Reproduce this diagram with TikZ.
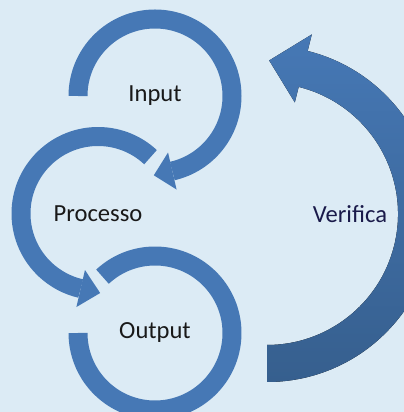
\documentclass[tikz,border=0pt]{standalone}
\usepackage{fontspec}
\setmainfont{Carlito}
\definecolor{cyclebg}{RGB}{220, 235, 245}
\definecolor{ringblue}{RGB}{70, 120, 181}
\definecolor{ringdark}{RGB}{54, 95, 142}
\definecolor{labelnavy}{RGB}{26, 26, 74}
\usepackage{tikz}
\usetikzlibrary{calc}

\begin{document}
\begin{tikzpicture}[x=0.02cm, y=0.02cm,
    ring/.style={draw=ringblue, line width=0.38cm},
    ringtip/.style={fill=ringblue},
    lbl/.style={font=\fontsize{14}{16}\selectfont, text=black!90}]
  \useasboundingbox (0, 0) rectangle (404, 412);
  \clip (0, 0) rectangle (404, 412);
  \fill[cyclebg] (0, 0) rectangle (404, 412);

  % Labels (arc centres)
  \node[lbl] (input) at (155, 316) {Input};
  \node[lbl] (process) at (98, 198.5) {Processo};
  \node[lbl] (output) at (155, 79) {Output};
  \node[lbl, text=labelnavy] (check) at (350, 198) {Verifica};
  \coordinate (loop) at (267, 198);

  % Input loop
  \draw[ring] ([shift={(180:77)}]input.center) arc[start angle=180, end angle=-77, radius=77];
  \fill[ringtip] ($(input.center)+(-77:58)$) -- ($(input.center)+(-77:96)$)
    -- ($(input.center)+(-77:77)+(-167:19)$) -- cycle;

  % Processo loop
  \draw[ring] ([shift={(47:77)}]process.center) arc[start angle=47, end angle=257, radius=77];
  \fill[ringtip] ($(process.center)+(257:58)$) -- ($(process.center)+(257:96)$)
    -- ($(process.center)+(257:77)+(347:20)$) -- cycle;

  % Output loop
  \draw[ring] ([shift={(133:77)}]output.center) arc[start angle=133, end angle=-180, radius=77];

  % Verifica feedback arrow
  \fill[top color=ringblue, middle color=ringblue, bottom color=ringdark]
    ($(loop)+(-90:168)$) arc[start angle=-90, end angle=76, radius=168]
    -- ($(loop)+(76:185)$) -- ($(loop)+(76:149.5)+(166:35)$)
    -- ($(loop)+(76:115)$) -- ($(loop)+(76:131)$)
    arc[start angle=76, end angle=-90, radius=131] -- cycle;
\end{tikzpicture}
\end{document}
